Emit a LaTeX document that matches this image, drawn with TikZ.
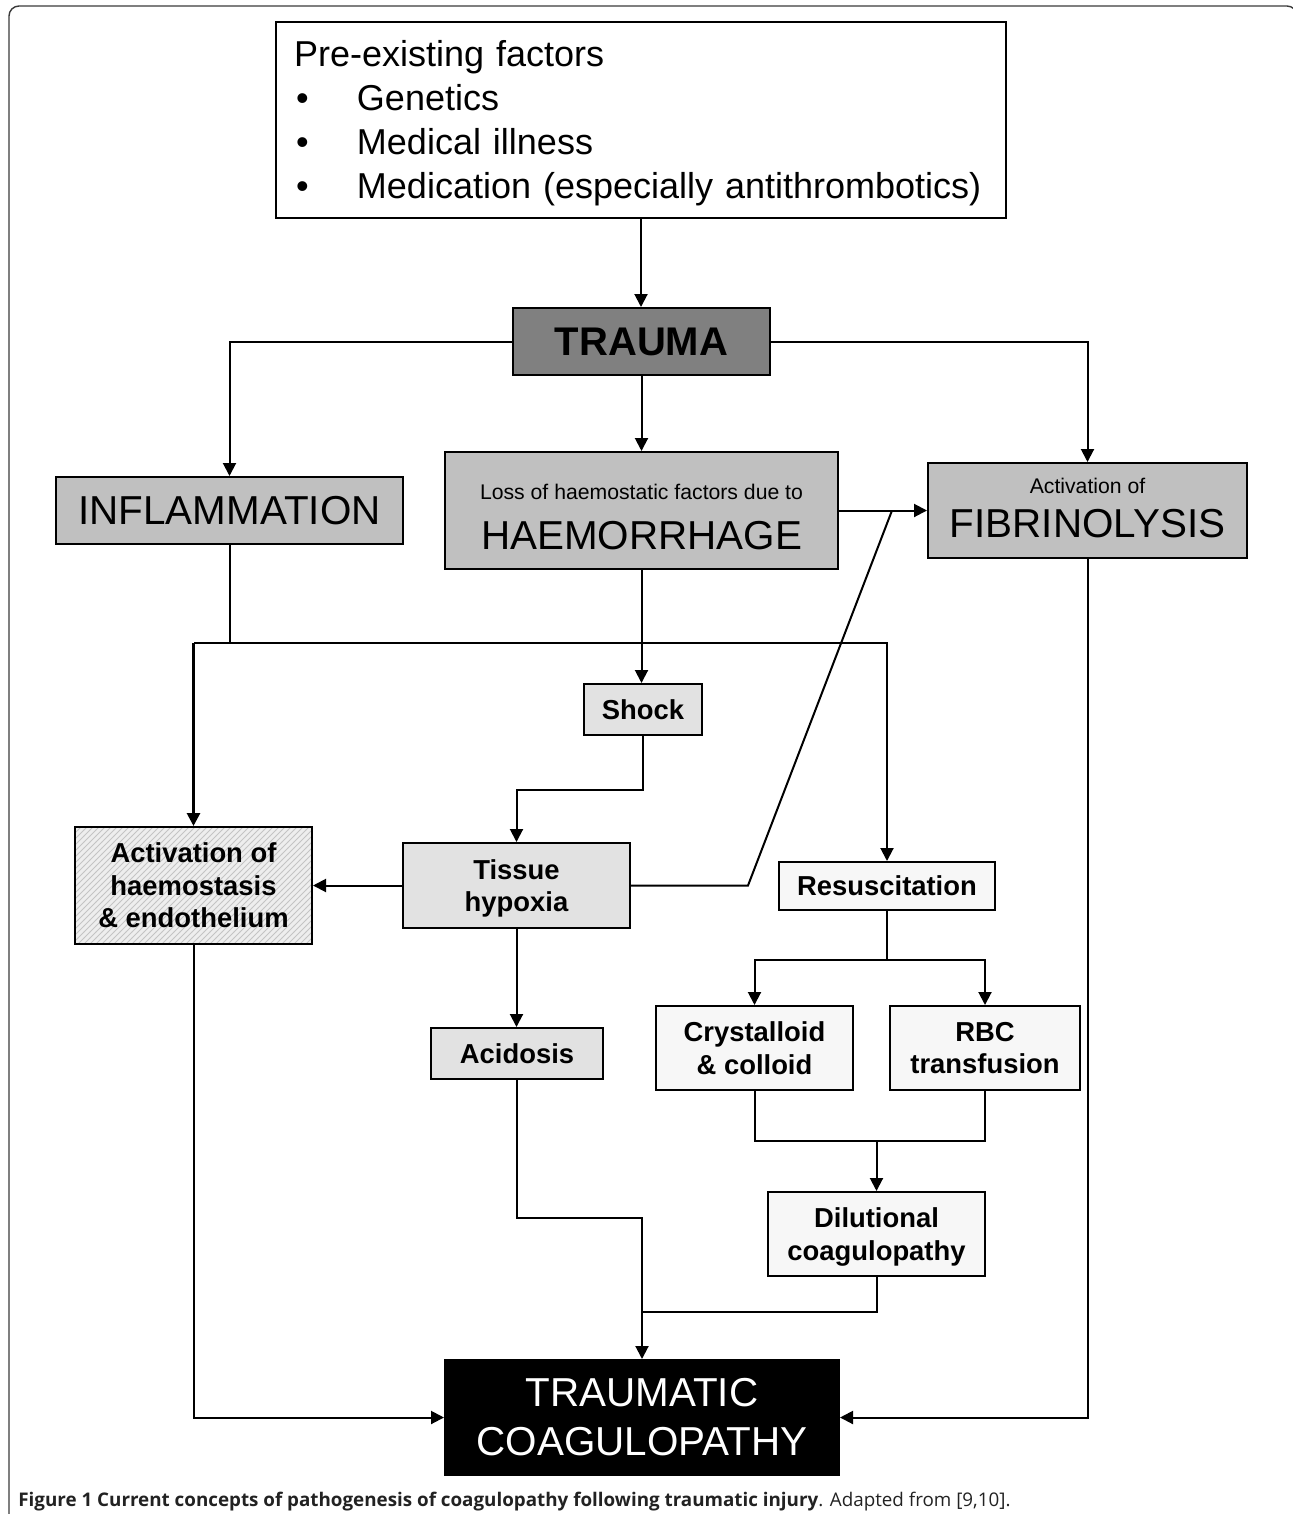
\documentclass[tikz,border=0pt]{standalone}
\usepackage{fontspec}
\setmainfont{Liberation Sans}
\newfontfamily\capfont{Open Sans}
\usetikzlibrary{arrows.meta,patterns}
\definecolor{traumagray}{HTML}{808080}
\definecolor{midgray}{HTML}{C0C0C0}
\definecolor{dotgray}{HTML}{E2E2E2}
\definecolor{dotwhite}{HTML}{F7F7F7}
\definecolor{hatchbg}{HTML}{EEEEEE}
\definecolor{hatchln}{HTML}{C4C4C4}
\definecolor{framegray}{HTML}{3A3A3A}
\definecolor{captext}{HTML}{222222}
\begin{document}
\begin{tikzpicture}[x=0.5pt,y=-0.5pt,
  box/.style={draw=black, line width=1pt, inner sep=0pt, align=center},
  conn/.style={line width=1pt},
  arr/.style={conn, -{Triangle[length=6.5pt,width=6.5pt]}},
  bigtxt/.style={font=\fontsize{20.2}{24.5}\selectfont},
  smalltxt/.style={font=\fontsize{10.6}{12}\selectfont},
  lbl/.style={font=\fontsize{13.7}{16.25}\selectfont\bfseries, text depth=0pt},
  greybox/.style={box, fill=dotgray},
  whitebox/.style={box, fill=dotwhite},
]
\clip (0,0) rectangle (1293,1514);
\useasboundingbox (0,0) rectangle (1293,1514);

% outer frame
\draw[framegray, line width=0.7pt, rounded corners=5pt] (9,1530) -- (9,6) -- (1297,6) -- (1297,1530);

% nodes
\node[box, minimum width=365pt, minimum height=98pt, text width=347pt, align=left,
      font=\fontsize{18}{22}\selectfont] (pre) at (641,120)
  {Pre-existing factors\\
   \makebox[31.5pt][l]{\hspace{1pt}•}Genetics\\
   \makebox[31.5pt][l]{\hspace{1pt}•}Medical illness\\
   \makebox[31.5pt][l]{\hspace{1pt}•}Medication \smash{(especially antithrombotics)}};

\node[box, fill=traumagray, minimum width=128.5pt, minimum height=33.5pt,
      font=\fontsize{20}{24}\selectfont\bfseries] (trauma) at (641.5,341.5) {TRAUMA};

\node[box, fill=midgray, minimum width=173.5pt, minimum height=33.5pt, bigtxt] (inflam) at (229.5,510.5) {INFLAMMATION};

\node[box, fill=midgray, minimum width=196.5pt, minimum height=58.5pt] (haem) at (641.5,510.5) {};
\node[smalltxt] (haemA) at (641.5,492) {Loss of haemostatic factors due to};
\node[bigtxt] (haemB) at (641.5,536) {HAEMORRHAGE};

\node[box, fill=midgray, minimum width=159.5pt, minimum height=47.5pt] (fib) at (1087.5,510.5) {};
\node[smalltxt] (fibA) at (1087.5,486) {Activation of};
\node[bigtxt] (fibB) at (1087.5,524) {FIBRINOLYSIS};

\node[greybox, lbl, minimum width=59pt, minimum height=25.5pt] (shock) at (643,709.5) {Shock};

\node[box, lbl, minimum width=118.5pt, minimum height=58.5pt,
      preaction={fill=hatchbg}, pattern=north east lines, pattern color=hatchln] (activ) at (193.5,885.5)
  {Activation of\\haemostasis\\\& endothelium};

\node[greybox, lbl, minimum width=113.5pt, minimum height=42.5pt] (tissue) at (516.5,885.5) {Tissue\\hypoxia};

\node[whitebox, lbl, minimum width=108pt, minimum height=24pt] (resus) at (887,886) {Resuscitation};

\node[greybox, lbl, minimum width=86pt, minimum height=25.5pt] (acid) at (517,1053.5) {Acidosis};

\node[whitebox, lbl, minimum width=98.5pt, minimum height=42pt] (cryst) at (754.5,1048) {Crystalloid\\\& colloid};

\node[whitebox, lbl, minimum width=95pt, minimum height=42pt] (rbc) at (985,1048) {RBC\\transfusion};

\node[whitebox, lbl, minimum width=108.5pt, minimum height=42pt] (dil) at (876.5,1234) {Dilutional\\coagulopathy};

\node[box, fill=black, text=white, minimum width=197pt, minimum height=57.5pt, bigtxt] (tc) at (642,1417.5)
  {TRAUMATIC\\COAGULOPATHY};

% caption
\node[anchor=base west, inner sep=0pt, text=captext, font=\capfont\fontsize{9.4}{11}\selectfont] (cap) at (18,1506)
  {\textbf{Figure 1 Current concepts of pathogenesis of coagulopathy following traumatic injury}. Adapted from [9,10].};

% junctions
\coordinate (j1) at (641.5,643);
\coordinate (js) at (643,790);
\coordinate (jt) at (748,885.5);
\coordinate (jf) at (892,510.5);
\coordinate (jr) at (887,960);
\coordinate (jd) at (876.5,1141);
\coordinate (ja) at (642,1218);
\coordinate (jb) at (642,1312);

% connectors
\draw[arr] (pre.south) -- (pre.south |- trauma.north);
\draw[arr] (trauma.west) -| (inflam.north);
\draw[arr] (trauma.south) -- (haem.north);
\draw[arr] (trauma.east) -| (fib.north);
\draw[arr] (haem.east) -- (fib.west);
\draw[arr] (haem.south) -- (haem.south |- shock.north);
\draw[conn] (inflam.south) -- (inflam.south |- j1);
\draw[conn] (j1) -- (j1 -| activ.north);
\draw[arr, line width=1.4pt] (j1 -| activ.north) -- (activ.north);
\draw[arr] (j1) -| (resus.north);
\draw[arr] (shock.south) -- (js) -| (tissue.north);
\draw[arr] (tissue.west) -- (activ.east);
\draw[conn] (tissue.east) -- (jt) -- (jf);
\draw[arr] (tissue.south) -- (tissue.south |- acid.north);
\draw[conn] (resus.south) -- (jr);
\draw[arr] (jr) -| (cryst.north);
\draw[arr] (jr) -| (rbc.north);
\draw[conn] (cryst.south) |- (jd) -| (rbc.south);
\draw[arr] (jd) -- (dil.north);
\draw[arr] (acid.south) |- (ja) -- (tc.north);
\draw[conn] (dil.south) |- (jb);
\draw[arr] (activ.south) |- (tc.west);
\draw[arr] (fib.south) |- (tc.east);
\end{tikzpicture}
\end{document}
